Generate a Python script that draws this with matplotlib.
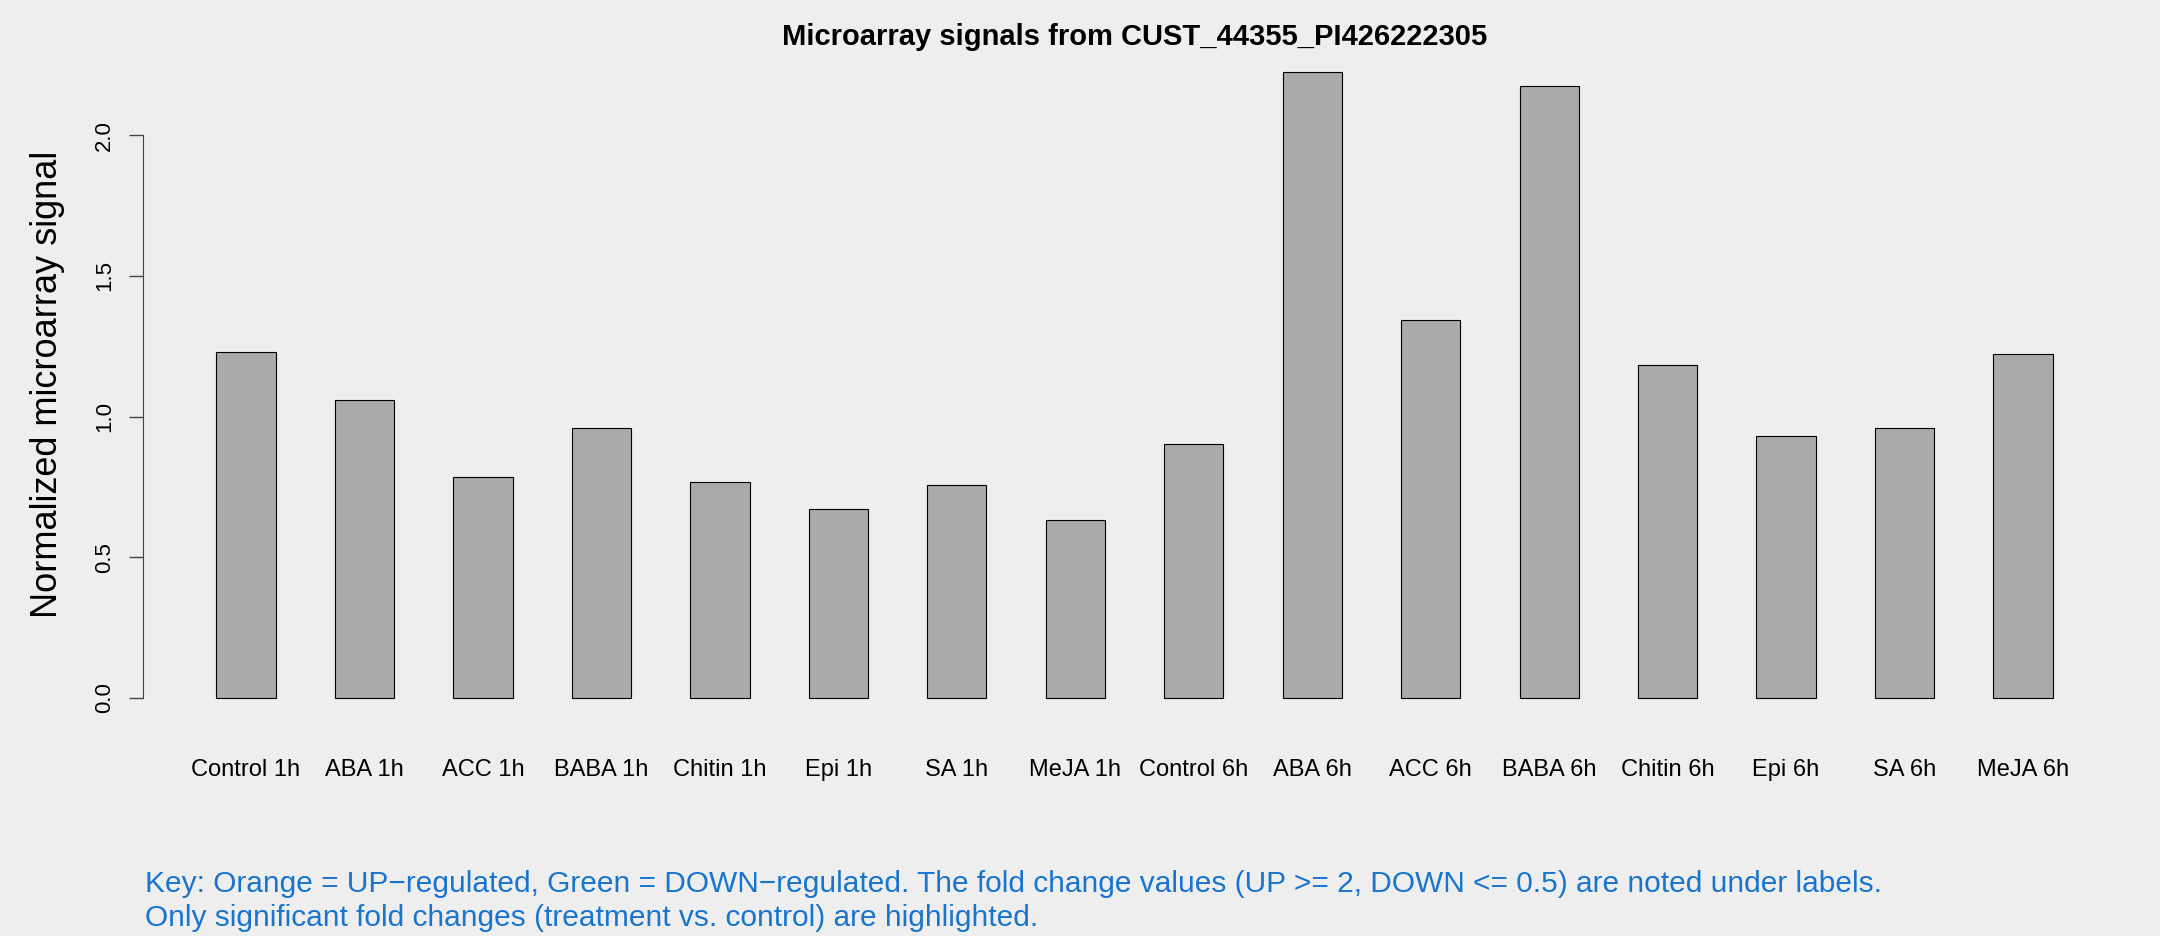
import matplotlib
matplotlib.use("Agg")
import matplotlib.pyplot as plt
import numpy as np

plt.rcParams['font.family'] = ['Liberation Sans', 'DejaVu Sans']

labels = ["Control 1h", "ABA 1h", "ACC 1h", "BABA 1h", "Chitin 1h", "Epi 1h", "SA 1h", "MeJA 1h",
          "Control 6h", "ABA 6h", "ACC 6h", "BABA 6h", "Chitin 6h", "Epi 6h", "SA 6h", "MeJA 6h"]
signals = [1.230, 1.058, 0.785, 0.960, 0.768, 0.672, 0.755, 0.632,
           0.902, 2.226, 1.343, 2.175, 1.183, 0.931, 0.961, 1.221]
yticks = [0.0, 0.5, 1.0, 1.5, 2.0]

title = "Microarray signals from CUST_44355_PI426222305"
ylabel = "Normalized microarray signal"
key_lines = ["Key: Orange = UP\u2212regulated, Green = DOWN\u2212regulated. The fold change values (UP >= 2, DOWN <= 0.5) are noted under labels.",
             "Only significant fold changes (treatment vs. control) are highlighted."]

bg = "#EEEEEE"
fig = plt.figure(figsize=(21.6, 9.36), dpi=100, facecolor=bg)
ax = fig.add_axes([0.0662, 0.2276, 0.9181, 0.7227], facecolor=bg)

# R style barplot: width 1, space 1
x = 1.5 + 2 * np.arange(len(signals))
ax.bar(x, signals, width=1.0, color="#AAAAAA", edgecolor="black", linewidth=0.8)

n = len(signals)
ax.set_xlim(1 - 0.04 * (2 * n - 1), 2 * n + 0.04 * (2 * n - 1))
ymax = max(signals)
ax.set_ylim(-0.04 * ymax, ymax * 1.04)

for s in ["top", "right", "bottom"]:
    ax.spines[s].set_visible(False)
ax.spines["left"].set_bounds(0, 2.0)
ax.spines["left"].set_color("#444444")
ax.set_yticks(yticks)
ax.set_yticklabels([f"{v:.1f}" for v in yticks], rotation=90, va="center", fontsize=16)
ax.tick_params(axis="y", length=10, width=1, color="#444444", pad=10)
ax.set_xticks(x)
ax.set_xticklabels(labels, fontsize=17)
ax.tick_params(axis="x", length=0, pad=26)

fig.text(0.5251, 1 - 37 / 936, title, fontsize=21, fontweight="bold", ha="center", va="center")
ax.set_ylabel(ylabel, fontsize=26, labelpad=21)

fig.text(0.067, 1 - 884 / 936, key_lines[0], color="#1874CD", fontsize=21.5, va="center", ha="left")
fig.text(0.067, 1 - 918 / 936, key_lines[1], color="#1874CD", fontsize=21.5, va="center", ha="left")

fig.savefig("out.png", dpi=100, facecolor=bg)
